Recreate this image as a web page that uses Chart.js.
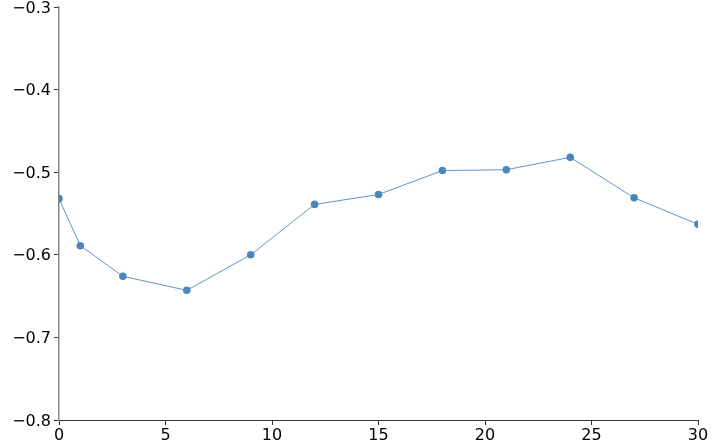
<!DOCTYPE html>
<html>
<head>
<meta charset="utf-8">
<script src="https://cdn.jsdelivr.net/npm/chart.js@4"></script>
<style>
  html, body { margin: 0; padding: 0; background: #fff; }
  #wrap { width: 714px; height: 448px; position: relative; }
</style>
</head>
<body>
<div id="wrap"><canvas id="myChart"></canvas></div>
<script>
const xValues = [0, 1, 3, 6, 9, 12, 15, 18, 21, 24, 27, 30];
const yValues = [-0.532, -0.589, -0.626, -0.643, -0.600, -0.539, -0.527, -0.498, -0.497, -0.482, -0.531, -0.563];
const xTicks = [0, 5, 10, 15, 20, 25, 30];
const yTicks = [-0.8, -0.7, -0.6, -0.5, -0.4, -0.3];

const fmt = v => (v < 0 ? '\u2212' : '') + Math.abs(v).toFixed(1);

const ctx = document.getElementById('myChart').getContext('2d');

new Chart(ctx, {
    type: 'line',
    data: {
        datasets: [{
            data: xValues.map((x, i) => ({ x: x, y: yValues[i] })),
            borderColor: 'rgba(70, 130, 190, 0.85)',
            borderWidth: 1,
            backgroundColor: '#4682b4',
            pointBackgroundColor: '#4a86be',
            pointBorderWidth: 0,
            pointRadius: 3.8,
            tension: 0
        }]
    },
    options: {
        responsive: true,
        maintainAspectRatio: false,
        animation: false,
        layout: { padding: { top: 7, right: 16, left: 0, bottom: 0 } },
        scales: {
            x: {
                type: 'linear',
                min: 0,
                max: 30,
                afterBuildTicks: s => { s.ticks = xTicks.map(v => ({ value: v })); },
                afterFit: s => { s.height = 28; s.paddingLeft = 0; s.paddingRight = 0; },
                grid: { drawOnChartArea: false, tickLength: 5, color: '#333' },
                border: { color: '#333', width: 1 },
                ticks: {
                    color: '#000',
                    padding: 1,
                    maxRotation: 0,
                    font: { family: 'DejaVu Sans', size: 16 }
                }
            },
            y: {
                min: -0.8,
                max: -0.3,
                afterBuildTicks: s => { s.ticks = yTicks.map(v => ({ value: v })); },
                afterFit: s => { s.width = 59; s.paddingTop = 0; s.paddingBottom = 0; },
                grid: { drawOnChartArea: false, tickLength: 5, color: '#333' },
                border: { color: '#888', width: 1.5 },
                ticks: {
                    color: '#000',
                    padding: 3,
                    labelOffset: 1.5,
                    font: { family: 'DejaVu Sans', size: 16 },
                    callback: v => fmt(v)
                }
            }
        },
        plugins: {
            legend: { display: false },
            tooltip: { enabled: false }
        }
    }
});
</script>
</body>
</html>
